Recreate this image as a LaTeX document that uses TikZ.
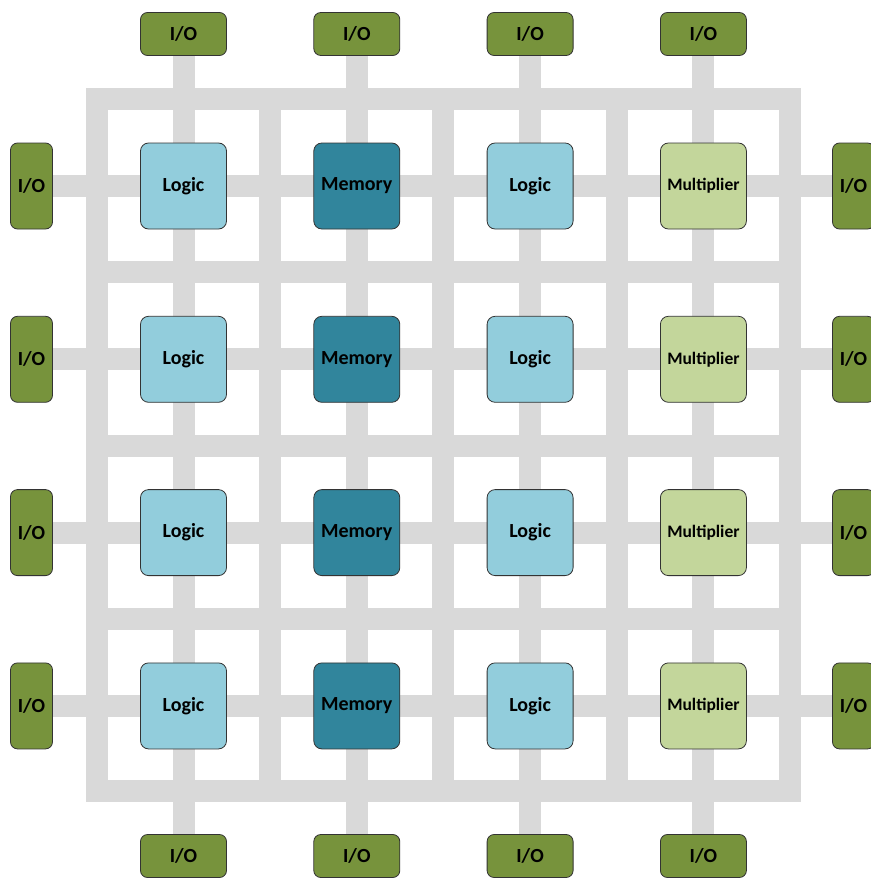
\documentclass[tikz,border=0pt]{standalone}
\usepackage{fontspec}
\setmainfont{Carlito}
\usetikzlibrary{backgrounds}

\definecolor{iogreen}{HTML}{77933C}
\definecolor{logicblue}{HTML}{92CDDC}
\definecolor{memteal}{HTML}{31859C}
\definecolor{multgreen}{HTML}{C3D69B}
\definecolor{wiregray}{HTML}{D9D9D9}

\begin{document}
\begin{tikzpicture}[x=1pt, y=-1pt,
  block/.style={rectangle, draw=black!80, line width=0.8pt, rounded corners=8pt, minimum width=86pt, minimum height=86pt, inner sep=0pt, font=\fontsize{20}{24}\selectfont\bfseries},
  logic/.style={block, fill=logicblue},
  mem/.style={block, fill=memteal},
  mult/.style={block, fill=multgreen, font=\fontsize{17.5}{21}\selectfont\bfseries},
  iohor/.style={block, fill=iogreen, rounded corners=7pt, minimum width=86pt, minimum height=43pt},
  iover/.style={block, fill=iogreen, rounded corners=7pt, minimum width=42pt, minimum height=86pt},
  wire/.style={draw=wiregray, line width=22pt}
]
  \useasboundingbox (0,0) rectangle (870,878);

  % fabric blocks, one column per kind
  \foreach \i/\kind/\txt in {1/logic/Logic, 2/mem/Memory, 3/logic/Logic, 4/mult/Multiplier}
    \foreach \j in {1,...,4}
      \node[\kind] (b\i\j) at ({183.5+173.3*(\i-1)}, {186+173.3*(\j-1)}) {\txt};

  % I/O pads on all four sides
  \foreach \i in {1,...,4} {
    \node[iohor] (ioN\i) at ({183.5+173.3*(\i-1)}, 34) {I/O};
    \node[iohor] (ioS\i) at ({183.5+173.3*(\i-1)}, 856) {I/O};
    \node[iover] (ioW\i) at (31.5, {186+173.3*(\i-1)}) {I/O};
    \node[iover] (ioE\i) at (853.5, {186+173.3*(\i-1)}) {I/O};
  }

  % routing channels
  \begin{scope}[on background layer]
    \draw[wire] (97,99) rectangle (789.5,791);
    \foreach \k in {1,2,3} {
      \draw[wire] ({270+173.3*(\k-1)}, 99) -- ++(0,692);
      \draw[wire] (97, {272.3+173.3*(\k-1)}) -- ++(692.5,0);
    }
    \foreach \i in {1,...,4} {
      \draw[wire] (ioN\i) -- (ioS\i);
      \draw[wire] (ioW\i) -- (ioE\i);
    }
  \end{scope}
\end{tikzpicture}
\end{document}
